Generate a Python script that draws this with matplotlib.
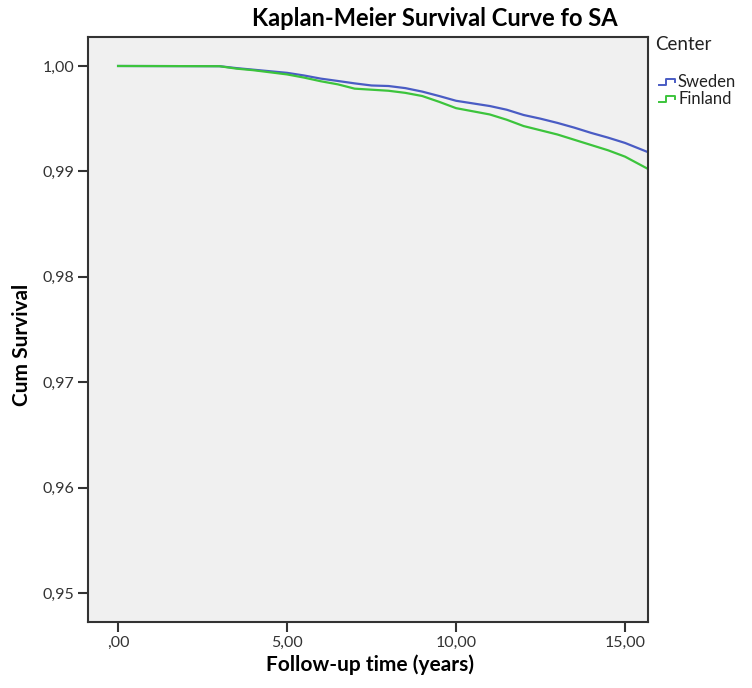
import matplotlib
matplotlib.use("Agg")
import matplotlib.pyplot as plt
from matplotlib.lines import Line2D

years = [0, 3.0, 3.5, 4.0, 4.5, 5.0, 5.5, 6.0, 6.5, 7.0, 7.5, 8.0, 8.5, 9.0, 9.5,
         10.0, 10.5, 11.0, 11.5, 12.0, 12.5, 13.0, 13.5, 14.0, 14.5, 15.0, 15.7]
sweden = [1.0, 0.99998, 0.9998, 0.99965, 0.9995, 0.99935, 0.9991, 0.9988, 0.99858,
          0.99835, 0.99815, 0.99810, 0.99790, 0.99757, 0.99715, 0.99670, 0.99645,
          0.99620, 0.99585, 0.99535, 0.99500, 0.99460, 0.99415, 0.99365, 0.99320,
          0.99270, 0.99180]
finland = [1.0, 0.99998, 0.99975, 0.9996, 0.9994, 0.9992, 0.9989, 0.99855, 0.99826,
           0.99785, 0.99775, 0.99765, 0.99745, 0.99715, 0.99660, 0.99600, 0.99570,
           0.99540, 0.99490, 0.99430, 0.99390, 0.99350, 0.99300, 0.99250, 0.99200,
           0.99140, 0.99020]
series_names = ["Sweden", "Finland"]
colors = ["#4a5cc4", "#3cc43c"]
xticks = [0, 5, 10, 15]
xticklabels = [",00", "5,00", "10,00", "15,00"]
yticks = [0.95, 0.96, 0.97, 0.98, 0.99, 1.00]
yticklabels = ["0,95", "0,96", "0,97", "0,98", "0,99", "1,00"]

plt.rcParams['font.family'] = ['Lato', 'DejaVu Sans']

fig = plt.figure(figsize=(7.52, 6.88), dpi=100)
ax = fig.add_axes([88/752, 1-622/688, 560/752, 585/688])
ax.set_facecolor("#f0f0f0")

for vals, c in zip([sweden, finland], colors):
    ax.plot(years, vals, color=c, lw=1.6)

ax.set_xlim(-0.89, 15.68)
ax.set_ylim(0.94725, 1.00275)
ax.set_xticks(xticks)
ax.set_xticklabels(xticklabels, fontsize=11.5, color="#333333")
ax.set_yticks(yticks)
ax.set_yticklabels(yticklabels, fontsize=11.5, color="#333333")
ax.tick_params(axis='both', direction='out', length=7, width=1.5, color="#333333")
ax.tick_params(axis='x', pad=3)
ax.tick_params(axis='y', pad=3)
for s in ax.spines.values():
    s.set_color("#333333")
    s.set_linewidth(1.5)

fig.text(370/752, 1-665/688, "Follow-up time (years)", ha='center', va='center',
         fontsize=15, fontweight='bold')
fig.text(22/752, 1-345/688, "Cum Survival", ha='center', va='center', rotation=90,
         fontsize=15, fontweight='bold')

fig.text(435/752, 1-18/688, "Kaplan-Meier Survival Curve fo SA", ha='center', va='center',
         fontsize=17, fontweight='bold')

# Legend
fig.text(655/752, 1-45/688, "Center", ha='left', va='center', fontsize=13.5, color="#222222")
for i, (name, c) in enumerate(zip(series_names, colors)):
    yc = 1 - (82 + i*17)/688
    h = 6/688
    fig.add_artist(Line2D([659/752, 666/752, 666/752, 675/752, 675/752],
                          [yc - h/2, yc - h/2, yc + h/2, yc + h/2, yc],
                          color=c, lw=1.4, transform=fig.transFigure))
    fig.text(678/752, yc, name, ha='left', va='center', fontsize=12, color="#222222")

fig.savefig("out.png", dpi=100)
